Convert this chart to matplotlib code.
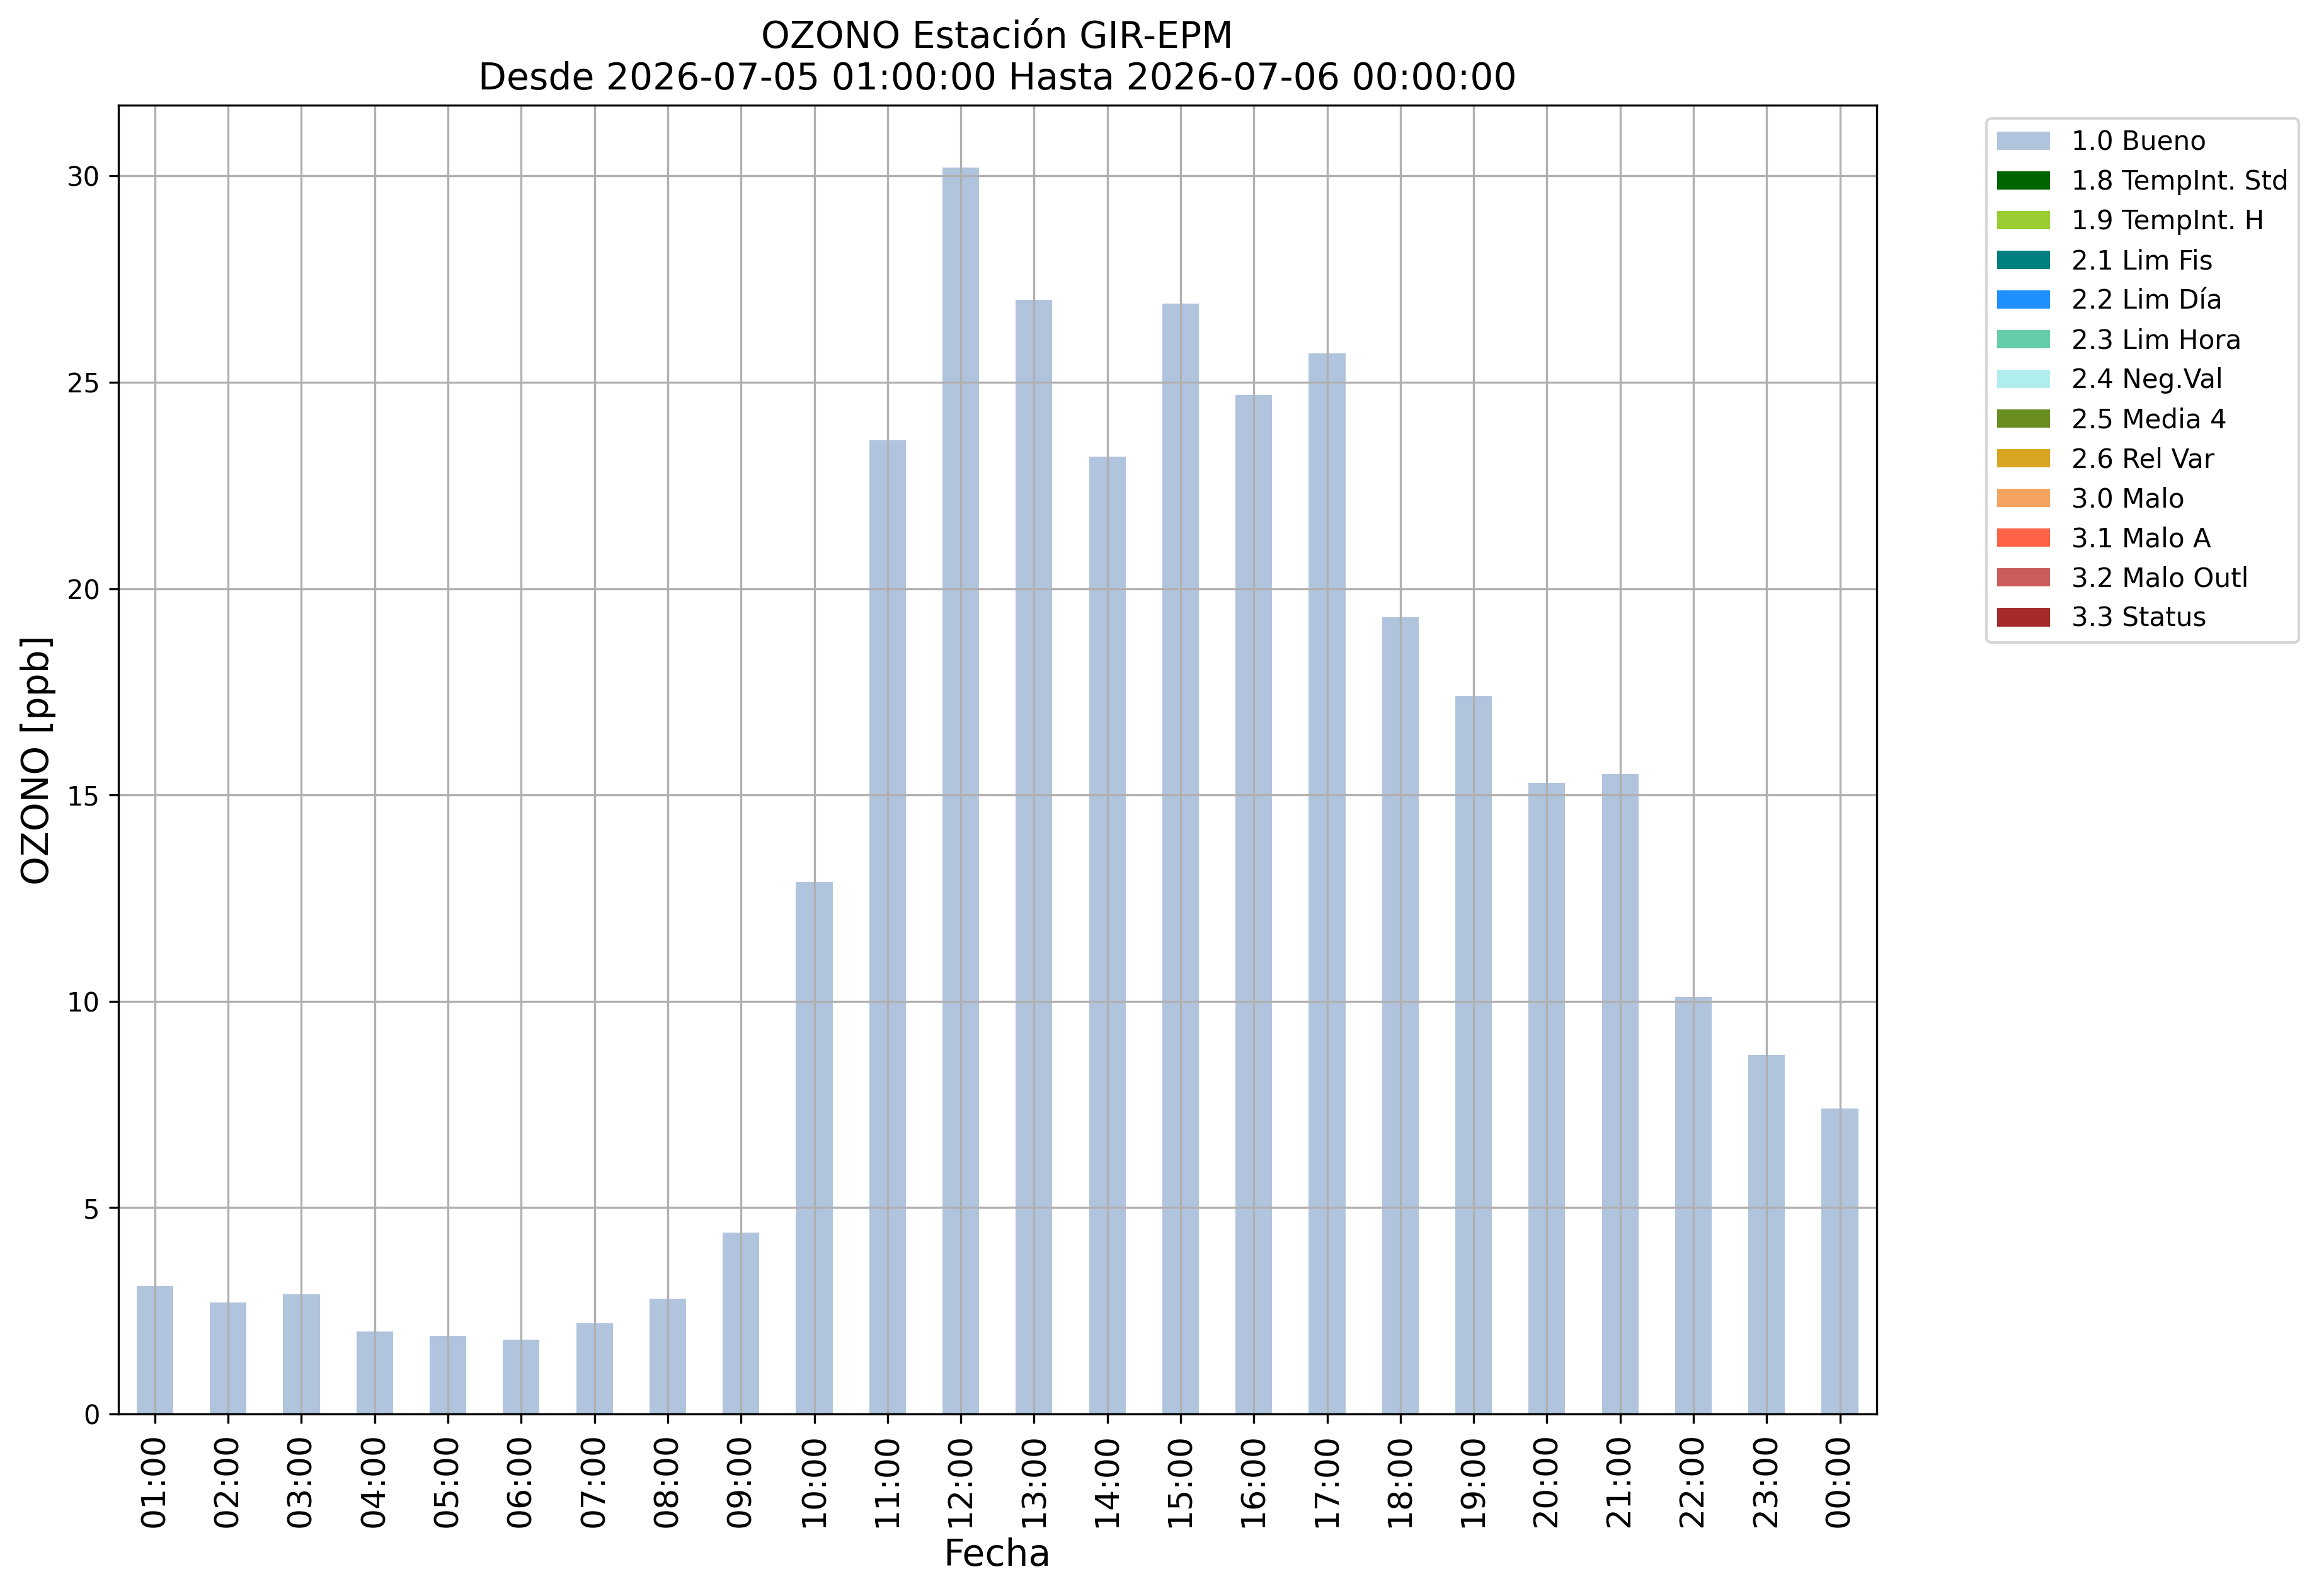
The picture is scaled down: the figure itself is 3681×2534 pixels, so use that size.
import numpy as np
import matplotlib
matplotlib.use('Agg')
import matplotlib.pyplot as plt
from matplotlib.patches import Patch

# Datos
horas = ['01:00', '02:00', '03:00', '04:00', '05:00', '06:00', '07:00', '08:00',
         '09:00', '10:00', '11:00', '12:00', '13:00', '14:00', '15:00', '16:00',
         '17:00', '18:00', '19:00', '20:00', '21:00', '22:00', '23:00', '00:00']
ozono = [3.1, 2.7, 2.9, 2.0, 1.9, 1.8, 2.2, 2.8, 4.4, 12.9, 23.6, 30.2,
         27.0, 23.2, 26.9, 24.7, 25.7, 19.3, 17.4, 15.3, 15.5, 10.1, 8.7, 7.4]

# Banderas de calidad
banderas = ['1.0 Bueno', '1.8 TempInt. Std', '1.9 TempInt. H', '2.1 Lim Fis',
            '2.2 Lim Día', '2.3 Lim Hora', '2.4 Neg.Val', '2.5 Media 4',
            '2.6 Rel Var', '3.0 Malo', '3.1 Malo A', '3.2 Malo Outl', '3.3 Status']
colores = ['lightsteelblue', 'darkgreen', 'yellowgreen', 'teal', 'dodgerblue',
           'mediumaquamarine', 'paleturquoise', 'olivedrab', 'goldenrod',
           'sandybrown', 'tomato', 'indianred', 'brown']

fig = plt.figure(figsize=(12.273, 8.447), dpi=300)
ax = fig.add_axes([0.051, 0.114, 0.758, 0.82])

x = np.arange(len(horas))
ax.bar(x, ozono, width=0.5, color=colores[0])
ax.set_xlim(-0.5, len(horas) - 0.5)
ax.set_xticks(x)
ax.set_xticklabels(horas, rotation=90, fontsize=12.5)
ax.tick_params(axis='y', labelsize=10)
ax.grid(True)

ax.set_xlabel('Fecha', fontsize=14)
ax.set_ylabel('OZONO [ppb]', fontsize=14)
ax.set_title('OZONO Estación GIR-EPM\nDesde 2026-07-05 01:00:00 Hasta 2026-07-06 00:00:00',
             fontsize=14)

handles = [Patch(facecolor=c, label=b) for b, c in zip(banderas, colores)]
ax.legend(handles=handles, loc='upper left', bbox_to_anchor=(1.055, 1.0), fontsize=10.1)

fig.savefig('out.png', dpi=300)
